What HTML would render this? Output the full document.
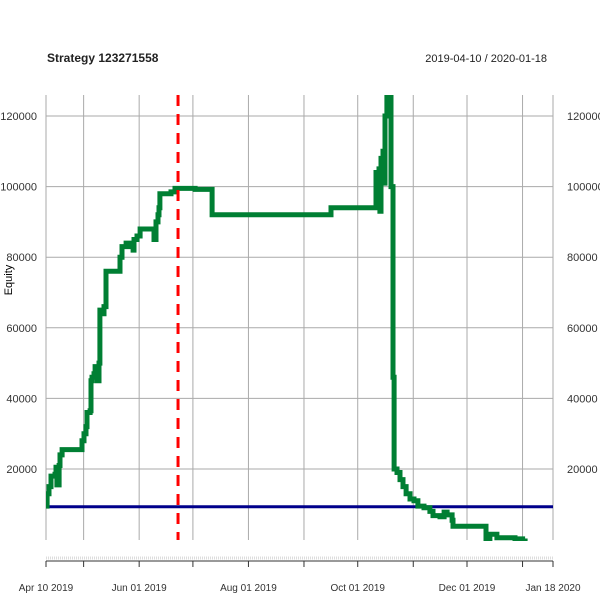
<!DOCTYPE html>
<html><head><meta charset="utf-8"><style>
body{margin:0;background:#fff;font-family:"Liberation Sans",sans-serif}
svg text{font-family:"Liberation Sans",sans-serif}
</style></head><body>
<svg id="chart" width="600" height="600" xmlns="http://www.w3.org/2000/svg">
<defs><clipPath id="plotclip"><rect x="46" y="95" width="507" height="446"/></clipPath></defs>
<text x="47" y="62" font-size="12" font-weight="bold" fill="#222">Strategy 123271558</text>
<text x="547" y="62" font-size="11" text-anchor="end" fill="#222">2019-04-10 / 2020-01-18</text>
<text transform="translate(12,280) rotate(-90)" font-size="11" text-anchor="middle">Equity</text>
<g id="grid"></g>
<g id="axes"></g>
<g id="series" clip-path="url(#plotclip)"></g>
</svg>
<script>
const days = [0,0.6,1.7,2.8,5.0,5.6,6.1,7.3,7.8,9,19,20.1,21.2,22.3,22.9,24.6,25.1,25.7,26.8,27.4,28.5,29.6,30.1,31.3,32.4,33.5,40.2,41.3,42.4,44.7,46.9,48.6,49.1,50.8,52.5,59.2,60.3,61.4,62.5,63.1,63.6,69.8,72,82.1,83.2,92.1,92.7,158.5,159.1,183.6,184.2,185.9,186.4,187,188.1,188.7,189.2,190.3,192,192.6,193.7,194.3,195.9,197.6,199.3,201,203.2,205.4,207.6,211,214.3,216,219.9,222.2,223.9,226.7,227.2,244.5,245.6,247.8,251.7,261.8,267.4];
const equity = [9500,13000,15000,18000,18500,20500,15500,21000,24000,25500,25500,28000,30000,32000,36000,36500,45000,46000,47000,49000,45000,50000,65000,64000,66000,76000,76000,80000,83000,84000,83000,82000,85000,86000,88000,88000,85000,90000,92000,94000,98000,98500,99500,99500,99200,99200,92000,92000,94000,94000,104000,105000,93000,108000,110000,101000,120000,127000,127000,100000,46000,20000,19000,17000,15000,13000,11500,11000,9500,9000,8000,6800,6500,7800,7000,5500,3800,3800,0,1500,500,200,300];
const yTicks = [20000,40000,60000,80000,100000,120000];
const gridDays = [0,21,52,82,113,144,174,205,235,266,283];
const xTickDays = [0,52,113,174,235,283];
const xTickLabels = ["Apr 10 2019","Jun 01 2019","Aug 01 2019","Oct 01 2019","Dec 01 2019","Jan 18 2020"];
const splitDay = 73.7;
const baseline = 9300;

const X0=46, X1=553, DAYS=283;
const xs = d => X0 + d*(X1-X0)/DAYS;
const ys = v => 469 - (v-20000)*0.00353;
const NS="http://www.w3.org/2000/svg";
function mk(tag, attrs, parent){const e=document.createElementNS(NS,tag);for(const k in attrs)e.setAttribute(k,attrs[k]);parent.appendChild(e);return e;}
const grid=document.getElementById('grid'), axes=document.getElementById('axes'), series=document.getElementById('series');

yTicks.forEach(v=>{
  const y=ys(v);
  const l=mk('line',{x1:X0,x2:X1,y1:y,y2:y,stroke:'#aaa','stroke-width':1},grid);
  
  
  const t1=mk('text',{x:37,y:y+4,'font-size':11,'text-anchor':'end',fill:'#333'},axes);
  t1.textContent=v;
  
  
  const t2=mk('text',{x:567,y:y+4,'font-size':11,fill:'#333'},axes);
  t2.textContent=v;
  
  
});
gridDays.forEach(d=>{
  const x=xs(d);
  const l=mk('line',{x1:x,x2:x,y1:95,y2:540,stroke:'#aaa','stroke-width':1},grid);
  
  
  const tk=mk('line',{x1:x,x2:x,y1:561,y2:567,stroke:'#333'},axes);
  
  
});
const strip=mk('line',{x1:X0,x2:X1,y1:558,y2:558,stroke:'#ddd','stroke-width':3,'stroke-dasharray':'1,1'},axes);


const ax=mk('line',{x1:X0,x2:X1,y1:561,y2:561,stroke:'#333','stroke-width':1},axes);


xTickDays.forEach((d,i)=>{
  const x=xs(d);
  const t=mk('text',{x:x,y:591,'font-size':10,'text-anchor':'middle',fill:'#333'},axes);
  t.textContent=xTickLabels[i];
  
  
});
const bl=mk('line',{x1:X0,x2:X1,y1:ys(baseline),y2:ys(baseline),stroke:'#00008b','stroke-width':3},series);


let pts=[];
days.forEach((d,i)=>{
  if(i>0) pts.push(xs(d).toFixed(1)+','+ys(equity[i-1]).toFixed(1));
  pts.push(xs(d).toFixed(1)+','+ys(equity[i]).toFixed(1));
});
const eq=mk('polyline',{points:pts.join(' '),fill:'none',stroke:'#007f33','stroke-width':5,'stroke-linejoin':'miter','stroke-miterlimit':4},series);


const sl=mk('line',{x1:xs(splitDay),x2:xs(splitDay),y1:95,y2:540,stroke:'#ff0000','stroke-width':3,'stroke-dasharray':'11,8'},series);


</script>
</body></html>
